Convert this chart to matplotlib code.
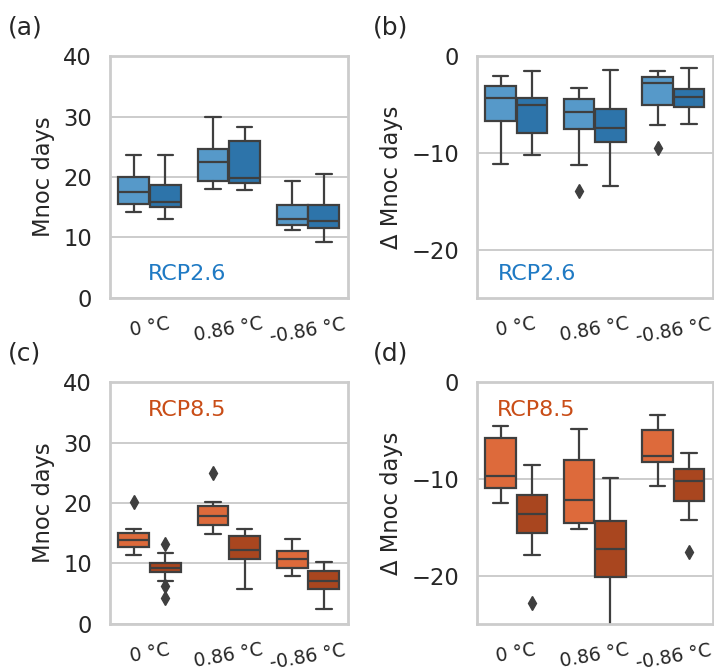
import matplotlib
matplotlib.use("Agg")
import matplotlib.pyplot as plt
import seaborn as sns

sns.set_theme(style="whitegrid")
plt.rcParams['font.family'] = ['DejaVu Sans']

categories = ['0 °C', '0.86 °C', '-0.86 °C']

# box stats per category: (whislo, q1, med, q3, whishi, fliers)
# (a) RCP2.6 Mnoc days
a_light = [(14.2, 15.6, 17.5, 20.0, 23.6, []),
           (18.0, 19.3, 22.5, 24.7, 29.9, []),
           (11.3, 12.0, 13.0, 15.4, 19.3, [])]
a_dark = [(13.1, 15.0, 15.9, 18.6, 23.7, []),
          (17.8, 19.0, 19.8, 26.0, 28.2, []),
          (9.3, 11.5, 12.7, 15.3, 20.5, [])]
# (b) RCP2.6 delta Mnoc days
b_light = [(-11.2, -6.7, -4.3, -3.1, -2.1, []),
           (-11.3, -7.5, -5.8, -4.4, -3.3, [-13.9]),
           (-7.1, -5.1, -2.8, -2.2, -1.5, [-9.5])]
b_dark = [(-10.2, -8.0, -5.1, -4.3, -1.5, []),
          (-13.4, -8.9, -7.4, -5.5, -1.4, []),
          (-7.0, -5.3, -4.2, -3.4, -1.2, [])]
# (c) RCP8.5 Mnoc days
c_light = [(11.4, 12.7, 13.8, 15.1, 15.7, [20.1]),
           (14.8, 16.3, 17.9, 19.5, 20.1, [24.9]),
           (8.0, 9.3, 10.7, 12.0, 14.1, [])]
c_dark = [(7.1, 8.6, 9.3, 10.1, 11.8, [13.2, 6.3, 4.3]),
          (5.7, 10.7, 12.3, 14.6, 15.7, []),
          (2.4, 5.8, 7.1, 8.8, 10.3, [])]
# (d) RCP8.5 delta Mnoc days
d_light = [(-12.5, -11.0, -9.7, -5.8, -4.5, []),
           (-15.2, -14.6, -12.2, -8.1, -4.9, []),
           (-10.7, -8.3, -7.6, -5.0, -3.4, [])]
d_dark = [(-17.9, -15.6, -13.6, -11.7, -8.6, [-22.8]),
          (-25.5, -20.1, -17.3, -14.4, -9.9, []),
          (-14.3, -12.3, -10.2, -9.0, -7.3, [-17.6])]

blues = ['#5699c9', '#2d74aa']
oranges = ['#dd6a3b', '#a9461f']
blue_text = '#1f7ac4'
orange_text = '#c94d17'
edge = '#3f3f3f'


def to_stats(rows):
    out = []
    for lo, q1, med, q3, hi, fl in rows:
        out.append(dict(whislo=lo, q1=q1, med=med, q3=q3, whishi=hi, fliers=fl))
    return out


def draw(ax, light, dark, colors):
    for k, (rows, off) in enumerate([(light, -0.2), (dark, 0.2)]):
        pos = [i + off for i in range(len(categories))]
        ax.bxp(to_stats(rows), positions=pos, widths=0.39, patch_artist=True,
               showcaps=True,
               boxprops=dict(facecolor=colors[k], edgecolor=edge, linewidth=1.6),
               medianprops=dict(color=edge, linewidth=1.6),
               whiskerprops=dict(color=edge, linewidth=1.6),
               capprops=dict(color=edge, linewidth=1.6),
               flierprops=dict(marker='d', markerfacecolor=edge, markeredgecolor=edge,
                               markersize=7))
    ax.set_xlim(-0.5, 2.5)
    ax.set_xticks(range(len(categories)))
    ax.set_xticklabels(categories, rotation=10, fontsize=13.5)
    ax.tick_params(axis='y', labelsize=16.3, pad=7)
    ax.tick_params(axis='x', pad=6)
    ax.grid(False, axis='x')
    ax.grid(True, axis='y', color='#cccccc', linewidth=1.4)
    for s in ax.spines.values():
        s.set_color('#cccccc')
        s.set_linewidth(2)
    ax.set_axisbelow(True)


fig = plt.figure(figsize=(7.14, 6.68), dpi=100)
ax_a = fig.add_axes([0.154, 0.554, 0.333, 0.362])
ax_b = fig.add_axes([0.668, 0.554, 0.330, 0.362])
ax_c = fig.add_axes([0.154, 0.066, 0.333, 0.362])
ax_d = fig.add_axes([0.668, 0.066, 0.330, 0.362])

draw(ax_a, a_light, a_dark, blues)
draw(ax_b, b_light, b_dark, blues)
draw(ax_c, c_light, c_dark, oranges)
draw(ax_d, d_light, d_dark, oranges)

for ax in (ax_a, ax_c):
    ax.set_ylim(0, 40)
    ax.set_yticks([0, 10, 20, 30, 40])
    ax.set_ylabel('Mnoc days', fontsize=16.3, labelpad=6)
for ax in (ax_b, ax_d):
    ax.set_ylim(-25, 0)
    ax.set_yticks([-20, -10, 0])
    ax.set_ylabel('Δ Mnoc days', fontsize=16.3, labelpad=6)

ax_a.text(0.16, 0.075, 'RCP2.6', color=blue_text, fontsize=16, transform=ax_a.transAxes)
ax_b.text(0.09, 0.075, 'RCP2.6', color=blue_text, fontsize=16, transform=ax_b.transAxes)
ax_c.text(0.16, 0.86, 'RCP8.5', color=orange_text, fontsize=16, transform=ax_c.transAxes)
ax_d.text(0.085, 0.86, 'RCP8.5', color=orange_text, fontsize=16, transform=ax_d.transAxes)

for lab, x, y in [('(a)', 0.011, 0.948), ('(b)', 0.522, 0.948),
                  ('(c)', 0.011, 0.460), ('(d)', 0.522, 0.460)]:
    fig.text(x, y, lab, fontsize=18, color='#262626')

fig.savefig('out.png', dpi=100)
